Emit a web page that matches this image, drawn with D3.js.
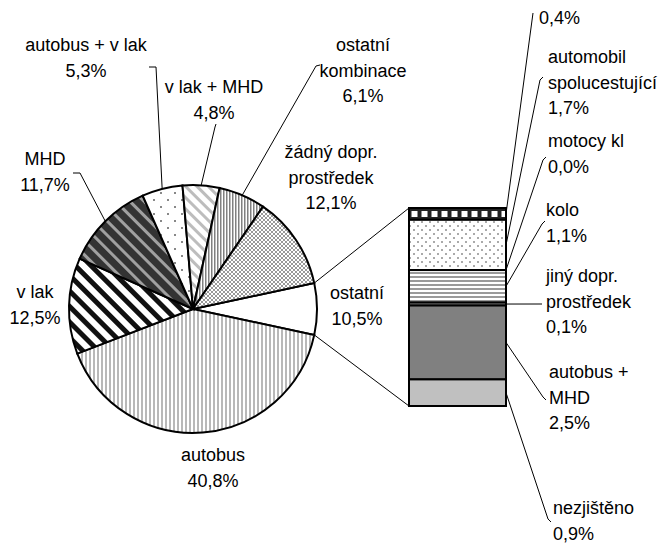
<!DOCTYPE html>
<meta charset="utf-8">
<style>
body { margin: 0; background: #fff; }
svg { display: block; }
text { font-family: "Liberation Sans", Arial, sans-serif; font-size: 18px; fill: #000; }
.slice, .seg { stroke: #000; stroke-width: 2; }
.leader { fill: none; stroke: #000; stroke-width: 1; }
</style>
<svg width="665" height="545"></svg>
<script src="https://cdn.jsdelivr.net/npm/d3@7"></script>
<script>
// main pie (clockwise from the split slice "ostatní")
var pieCats = ["ostatní", "autobus", "vlak", "MHD", "autobus + vlak", "vlak + MHD", "ostatní kombinace", "žádný dopr. prostředek"];
var pieVals = [null, 40.8, 12.5, 11.7, 5.3, 4.8, 6.1, 12.1];
var pieLabels = [
  ["ostatní", "10,5%"],
  ["autobus", "40,8%"],
  ["v lak", "12,5%"],
  ["MHD", "11,7%"],
  ["autobus + v lak", "5,3%"],
  ["v lak + MHD", "4,8%"],
  ["ostatní", "kombinace", "6,1%"],
  ["žádný dopr.", "prostředek", "12,1%"]
];

// split bar (top to bottom)
var barCats = ["?", "automobil spolucestující", "motocykl", "kolo", "jiný dopr. prostředek", "autobus + MHD", "nezjištěno"];
var barVals = [0.4, 1.7, 0.0, 1.1, 0.1, 2.5, 0.9];
var barLabels = [
  ["0,4%"],
  ["automobil", "spolucestující", "1,7%"],
  ["motocy kl", "0,0%"],
  ["kolo", "1,1%"],
  ["jiný dopr.", "prostředek", "0,1%"],
  ["autobus +", "MHD", "2,5%"],
  ["nezjištěno", "0,9%"]
];

pieVals[0] = +d3.sum(barVals).toFixed(1);

var svg = d3.select("svg");
var cx = 193, cy = 309, r = 124;
var bar = {x: 409, y: 208, w: 97, h: 198};
var lineH = 25.5;

// ---------- patterns ----------
var defs = svg.append("defs");
function pat(id, w, h, bg, tf) {
  var p = defs.append("pattern").attr("id", id)
    .attr("patternUnits", "userSpaceOnUse")
    .attr("width", w).attr("height", h);
  if (tf) p.attr("patternTransform", tf);
  p.append("rect").attr("width", w).attr("height", h).attr("fill", bg);
  return p;
}
var p;
p = pat("p-bus", 4, 4, "#fff");
p.append("rect").attr("x", 0).attr("width", 2).attr("height", 4).attr("fill", "#b8b8b8");
p = pat("p-komb", 3, 3, "#fff");
p.append("rect").attr("x", 0).attr("width", 1.5).attr("height", 3).attr("fill", "#808080");
p = pat("p-vlak", 11, 11, "#fff", "rotate(-45)");
p.append("rect").attr("x", 0).attr("width", 5).attr("height", 11).attr("fill", "#111");
p = pat("p-mhd", 10, 10, "#333", "rotate(-45)");
p.append("rect").attr("x", 0).attr("width", 3).attr("height", 10).attr("fill", "#a0a0a0");
p = pat("p-vm", 8, 8, "#fff", "rotate(-45)");
p.append("rect").attr("x", 0).attr("width", 3).attr("height", 8).attr("fill", "#bdbdbd");
p = pat("p-bv", 14, 14, "#fff");
p.append("rect").attr("x", 2).attr("y", 2).attr("width", 2).attr("height", 2).attr("fill", "#888");
p.append("rect").attr("x", 9).attr("y", 9).attr("width", 2).attr("height", 2).attr("fill", "#888");
p = pat("p-check", 4, 4, "#fff");
p.append("rect").attr("width", 2).attr("height", 2).attr("fill", "#999");
p.append("rect").attr("x", 2).attr("y", 2).attr("width", 2).attr("height", 2).attr("fill", "#999");

p = pat("p-sq", 10, 12, "#222");
p.attr("x", bar.x).attr("y", bar.y);
p.append("rect").attr("x", 2.5).attr("y", 3).attr("width", 6).attr("height", 6).attr("fill", "#fff");
p = pat("p-dots", 8, 8, "#fff");
p.append("rect").attr("x", 1).attr("y", 1).attr("width", 2).attr("height", 2).attr("fill", "#aaa");
p.append("rect").attr("x", 5).attr("y", 5).attr("width", 2).attr("height", 2).attr("fill", "#aaa");
p = pat("p-hstr", 4, 4, "#fff");
p.attr("y", bar.y);
p.append("rect").attr("y", 0).attr("width", 4).attr("height", 2).attr("fill", "#9a9a9a");

var pieFills = ["#fff", "url(#p-bus)", "url(#p-vlak)", "url(#p-mhd)", "url(#p-bv)", "url(#p-vm)", "url(#p-komb)", "url(#p-check)"];
var barFills = ["url(#p-sq)", "url(#p-dots)", "#fff", "url(#p-hstr)", "#999", "#808080", "#c0c0c0"];

// ---------- pie ----------
var total = d3.sum(pieVals);
var splitAngle = 2 * Math.PI * pieVals[0] / total;
var pie = d3.pie().sort(null).value(function(d) { return d; })
  .startAngle(Math.PI / 2 - splitAngle / 2)
  .endAngle(Math.PI / 2 - splitAngle / 2 + 2 * Math.PI);
var arcs = pie(pieVals);
var arc = d3.arc().innerRadius(0).outerRadius(r);

var g = svg.append("g").attr("transform", "translate(" + cx + "," + cy + ")");
g.selectAll("path.slice").data(arcs).enter().append("path")
  .attr("class", "slice")
  .attr("d", arc)
  .attr("fill", function(d, i) { return pieFills[i]; });

function onCircle(a) { return [cx + r * Math.sin(a), cy - r * Math.cos(a)]; }

// ---------- bar ----------
var yb = d3.scaleLinear().domain([0, d3.sum(barVals)]).range([bar.y, bar.y + bar.h]);
var cum = 0;
var segs = barVals.map(function(v, i) {
  var s = {i: i, v: v, y0: yb(cum), y1: yb(cum + v)};
  cum += v;
  return s;
});
svg.selectAll("rect.seg").data(segs).enter().append("rect")
  .attr("class", "seg")
  .attr("x", bar.x).attr("width", bar.w)
  .attr("y", function(d) { return d.y0; })
  .attr("height", function(d) { return d.y1 - d.y0; })
  .attr("fill", function(d) { return barFills[d.i]; });
svg.append("rect").attr("x", bar.x).attr("y", bar.y).attr("width", bar.w).attr("height", bar.h)
  .attr("fill", "none").attr("stroke", "#000").attr("stroke-width", 2);

// connectors pie -> bar
var pTop = onCircle(arcs[0].startAngle), pBot = onCircle(arcs[0].endAngle);
svg.append("path").attr("class", "leader").attr("d", d3.line()([pTop, [bar.x, bar.y]]));
svg.append("path").attr("class", "leader").attr("d", d3.line()([pBot, [bar.x, bar.y + bar.h]]));

// ---------- labels ----------
function label(lines, x, y, anchor) {
  var t = svg.append("text").attr("text-anchor", anchor);
  lines.forEach(function(s, k) {
    t.append("tspan").attr("x", x).attr("y", y + k * lineH).text(s);
  });
}

// pie label placement: [x, first baseline]; leader: points from label toward the slice
var pieLabelPos = [
  [357, 299], [213, 461], [35, 298], [45, 165], [86, 51], [214, 93], [363, 51], [331, 158]
];
var pieLeaders = [null, null, null, [[73, 173], [80, 173]], [[149, 67], [156, 67]], [[216, 124], [215, 127]], [[320, 65], [316, 66]], null];

arcs.forEach(function(a, i) {
  label(pieLabels[i], pieLabelPos[i][0], pieLabelPos[i][1], "middle");
  if (pieLeaders[i]) {
    var pts = pieLeaders[i].concat([onCircle((a.startAngle + a.endAngle) / 2)]);
    svg.append("path").attr("class", "leader").attr("d", d3.line()(pts));
  }
});

var barLabelPos = [
  [539, 24], [548, 63], [548, 147], [546, 216], [546, 282], [549, 378], [553, 514]
];
var barLeaders = [
  [[533, 13]],
  [[543, 77], [540, 80]],
  [[546, 157], [543, 160]],
  [[545, 221], [542, 224]],
  [[542, 304]],
  [[546, 400], [543, 397]],
  [[551, 522], [548, 519]]
];
segs.forEach(function(s, i) {
  label(barLabels[i], barLabelPos[i][0], barLabelPos[i][1], "start");
  var pts = barLeaders[i].concat([[bar.x + bar.w, (s.y0 + s.y1) / 2]]);
  svg.append("path").attr("class", "leader").attr("d", d3.line()(pts));
});
</script>
